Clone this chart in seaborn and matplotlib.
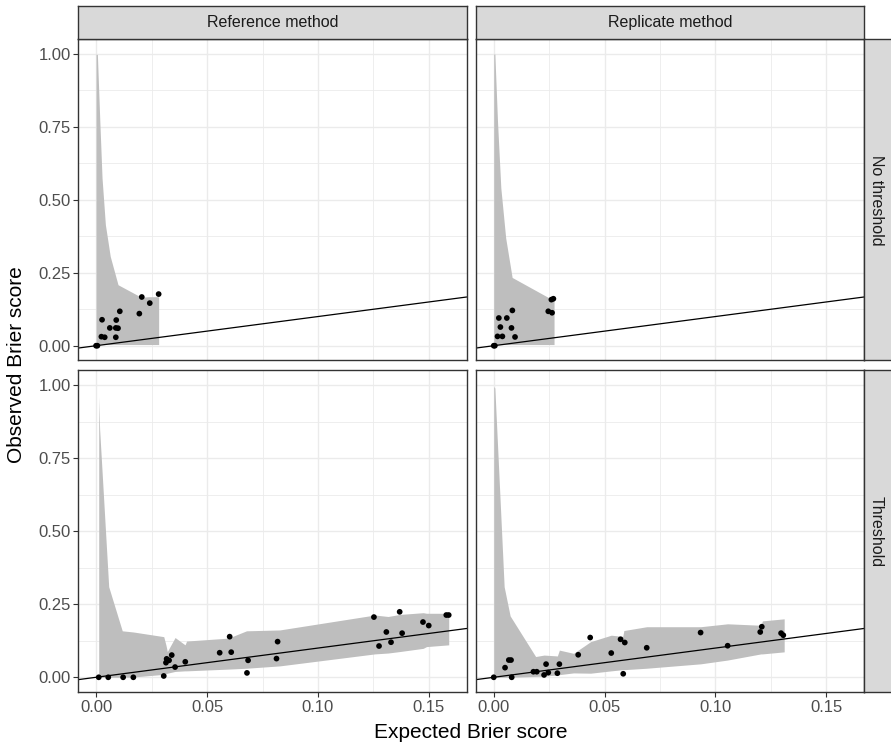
import matplotlib
matplotlib.use("Agg")
import matplotlib.pyplot as plt
import numpy as np
import pandas as pd
import seaborn as sns

sns.set_theme(style="white")
plt.rcParams["font.family"] = ["Liberation Sans", "DejaVu Sans"]

# ---- facet labels ----
col_labels = ["Reference method", "Replicate method"]
row_labels = ["No threshold", "Threshold"]

# ---- Reference method / No threshold ----
ref_none_x = [0.0, 0.0006, 0.0027, 0.0062, 0.0024, 0.0039, 0.0091, 0.0089, 0.0099,
              0.0089, 0.0107, 0.0195, 0.0206, 0.0242, 0.0282]
ref_none_y = [0.0, 0.0, 0.089, 0.061, 0.031, 0.029, 0.088, 0.061, 0.060,
              0.029, 0.118, 0.110, 0.167, 0.146, 0.177]
ref_none_band_x = [0.0, 0.0006, 0.0017, 0.0027, 0.0042, 0.0064, 0.0099, 0.0204, 0.0237, 0.0282]
ref_none_band_lo = [0.004, 0.004, 0.004, 0.004, 0.004, 0.004, 0.004, 0.004, 0.004, 0.004]
ref_none_band_hi = [1.0, 0.998, 0.769, 0.575, 0.415, 0.306, 0.209, 0.166, 0.168, 0.168]

# ---- Replicate method / No threshold ----
rep_none_x = [0.0, 0.0005, 0.0017, 0.0039, 0.0030, 0.0023, 0.0059, 0.0080, 0.0096,
              0.0084, 0.0246, 0.0263, 0.0260, 0.0269]
rep_none_y = [0.0, 0.0, 0.032, 0.032, 0.064, 0.095, 0.095, 0.061, 0.030,
              0.121, 0.118, 0.113, 0.158, 0.161]
rep_none_band_x = [0.0, 0.0005, 0.0017, 0.0032, 0.0054, 0.0083, 0.0264, 0.0272]
rep_none_band_lo = [0.004, 0.004, 0.004, 0.004, 0.004, 0.004, 0.004, 0.004]
rep_none_band_hi = [1.0, 1.0, 0.769, 0.541, 0.369, 0.234, 0.158, 0.158]

# ---- Reference method / Threshold ----
ref_thr_x = [0.0012, 0.0055, 0.0122, 0.0168, 0.0305, 0.0315, 0.0318, 0.0329, 0.0341,
             0.0356, 0.0402, 0.0557, 0.0602, 0.0609, 0.0680, 0.0685, 0.0813, 0.0818,
             0.1252, 0.1275, 0.1308, 0.1329, 0.1368, 0.1379, 0.1473, 0.1499, 0.1578, 0.1589]
ref_thr_y = [0.0, 0.0, 0.0, 0.0, 0.0045, 0.050, 0.063, 0.058, 0.076,
             0.035, 0.053, 0.084, 0.139, 0.086, 0.015, 0.058, 0.064, 0.122,
             0.206, 0.107, 0.155, 0.120, 0.224, 0.151, 0.189, 0.177, 0.213, 0.213]
ref_thr_band_x = [0.0012, 0.0016, 0.0057, 0.0118, 0.0168, 0.0305, 0.0315, 0.0321, 0.0356,
                  0.0401, 0.0408, 0.0596, 0.0678, 0.0828, 0.1256, 0.1316, 0.1368, 0.1474,
                  0.1489, 0.1589]
ref_thr_band_lo = [0.0, 0.0, 0.0, 0.0, 0.001, 0.010, 0.012, 0.014, 0.020,
                   0.022, 0.022, 0.028, 0.031, 0.039, 0.080, 0.083, 0.088, 0.099,
                   0.105, 0.111]
ref_thr_band_hi = [0.961, 0.850, 0.310, 0.159, 0.155, 0.139, 0.110, 0.088, 0.136,
                   0.111, 0.124, 0.134, 0.159, 0.162, 0.213, 0.208, 0.215, 0.221,
                   0.219, 0.219]

# ---- Replicate method / Threshold ----
rep_thr_x = [0.0, 0.0051, 0.0068, 0.0078, 0.0081, 0.0179, 0.0194, 0.0227, 0.0236,
             0.0246, 0.0287, 0.0296, 0.0381, 0.0435, 0.0530, 0.0572, 0.0591, 0.0584,
             0.0690, 0.0933, 0.1055, 0.1202, 0.1209, 0.1296, 0.1306]
rep_thr_y = [0.0, 0.033, 0.059, 0.059, 0.0, 0.019, 0.019, 0.008, 0.045,
             0.016, 0.014, 0.045, 0.077, 0.136, 0.083, 0.130, 0.119, 0.012,
             0.101, 0.153, 0.108, 0.155, 0.173, 0.151, 0.144]
rep_thr_band_x = [0.0, 0.0005, 0.0047, 0.0074, 0.0189, 0.0227, 0.0287, 0.0296, 0.0360,
                  0.0437, 0.0530, 0.0582, 0.0587, 0.0690, 0.0933, 0.1055, 0.1205, 0.1212,
                  0.1310]
rep_thr_band_lo = [0.0, 0.0, 0.0, 0.0, 0.003, 0.004, 0.008, 0.009, 0.015,
                   0.014, 0.022, 0.026, 0.026, 0.031, 0.046, 0.059, 0.080, 0.080,
                   0.087]
rep_thr_band_hi = [0.995, 0.990, 0.310, 0.210, 0.071, 0.076, 0.073, 0.093, 0.082,
                   0.122, 0.144, 0.140, 0.160, 0.173, 0.173, 0.183, 0.178, 0.193,
                   0.200]

x_ticks = [0.0, 0.05, 0.10, 0.15]
x_tick_labels = ["0.00", "0.05", "0.10", "0.15"]
y_ticks = [0.0, 0.25, 0.50, 0.75, 1.00]
y_tick_labels = ["0.00", "0.25", "0.50", "0.75", "1.00"]

panels = {
    (0, 0): (ref_none_x, ref_none_y, ref_none_band_x, ref_none_band_lo, ref_none_band_hi),
    (0, 1): (rep_none_x, rep_none_y, rep_none_band_x, rep_none_band_lo, rep_none_band_hi),
    (1, 0): (ref_thr_x, ref_thr_y, ref_thr_band_x, ref_thr_band_lo, ref_thr_band_hi),
    (1, 1): (rep_thr_x, rep_thr_y, rep_thr_band_x, rep_thr_band_lo, rep_thr_band_hi),
}

W, H = 891, 745
fig = plt.figure(figsize=(W / 100, H / 100), dpi=100)

def frac_rect(x0, y0, x1, y1):
    # pixel box (top-left origin) -> figure fraction rect
    return [x0 / W, 1 - y1 / H, (x1 - x0) / W, (y1 - y0) / H]

col_px = [(78.3, 466.7), (476.0, 864.0)]
row_px = [(39.4, 360.3), (370.4, 691.9)]
strip_top = 6.0
strip_right = 891.0

border = "#333333"
grid_c = "#EBEBEB"
strip_fc = "#D9D9D9"
text_c = "#4D4D4D"
tick_fs = 12
strip_fs = 11.5
title_fs = 15

xlim = (-0.0080, 0.1670)
ylim = (-0.05, 1.05)

for (r, c), (px, py, bx, blo, bhi) in panels.items():
    x0, x1 = col_px[c]
    y0, y1 = row_px[r]
    ax = fig.add_axes(frac_rect(x0, y0, x1, y1))
    ax.set_facecolor("white")
    ax.set_xlim(*xlim)
    ax.set_ylim(*ylim)

    ax.set_xticks(x_ticks)
    ax.set_xticks([0.025, 0.075, 0.125], minor=True)
    ax.set_yticks(y_ticks)
    ax.set_yticks([0.125, 0.375, 0.625, 0.875], minor=True)
    ax.grid(True, which="major", color=grid_c, linewidth=1.0, zorder=0)
    ax.grid(True, which="minor", color=grid_c, linewidth=0.6, zorder=0)
    ax.set_axisbelow(True)

    ax.fill_between(bx, blo, bhi, color="#BEBEBE", linewidth=0, zorder=1)
    ax.axline((0, 0), slope=1, color="black", linewidth=0.9, zorder=2)
    df = pd.DataFrame({"x": px, "y": py})
    sns.scatterplot(data=df, x="x", y="y", ax=ax, color="black", s=17,
                    linewidth=0, edgecolor="none", zorder=3, legend=False)
    ax.set_xlabel("")
    ax.set_ylabel("")

    for sp in ax.spines.values():
        sp.set_color(border)
        sp.set_linewidth(1.0)

    ax.tick_params(which="minor", length=0)
    if r == 1:
        ax.set_xticklabels(x_tick_labels)
        ax.tick_params(axis="x", which="major", length=3.6, width=0.8, color=border,
                       labelsize=tick_fs, labelcolor=text_c, pad=2, bottom=True)
    else:
        ax.tick_params(axis="x", which="major", length=0, labelbottom=False)
    if c == 0:
        ax.set_yticklabels(y_tick_labels)
        ax.tick_params(axis="y", which="major", length=3.6, width=0.8, color=border,
                       labelsize=tick_fs, labelcolor=text_c, pad=2, left=True)
    else:
        ax.tick_params(axis="y", which="major", length=0, labelleft=False)

# column strips
for c, label in enumerate(col_labels):
    x0, x1 = col_px[c]
    sax = fig.add_axes(frac_rect(x0, strip_top, x1, row_px[0][0]))
    sax.set_facecolor(strip_fc)
    sax.set_xticks([]); sax.set_yticks([])
    for sp in sax.spines.values():
        sp.set_color(border); sp.set_linewidth(1.0)
    sax.text(0.5, 0.5, label, ha="center", va="center", fontsize=strip_fs,
             color="#1A1A1A", transform=sax.transAxes)

# row strips
for r, label in enumerate(row_labels):
    y0, y1 = row_px[r]
    sax = fig.add_axes(frac_rect(col_px[1][1], y0, strip_right + 2, y1))
    sax.set_facecolor(strip_fc)
    sax.set_xticks([]); sax.set_yticks([])
    for sp in sax.spines.values():
        sp.set_color(border); sp.set_linewidth(1.0)
    sax.text(0.42, 0.5, label, ha="center", va="center", fontsize=strip_fs,
             color="#1A1A1A", rotation=-90, transform=sax.transAxes)

fig.text(471 / W, 1 - 733 / H, "Expected Brier score", ha="center", va="center",
         fontsize=title_fs, color="black")
fig.text(17 / W, 1 - 365 / H, "Observed Brier score", ha="center", va="center",
         fontsize=title_fs, color="black", rotation=90)

fig.savefig("out.png", dpi=100)
